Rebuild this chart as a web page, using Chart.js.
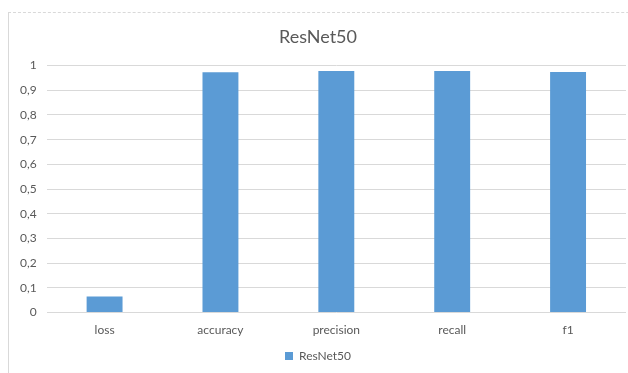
<!DOCTYPE html>
<html lang="en">
<head>
    <meta charset="UTF-8">
    <title>ResNet50</title>
    <script src="https://cdn.jsdelivr.net/npm/chart.js"></script>
    <style>
        html, body { margin: 0; padding: 0; background: #fff; }
        #wrap { position: relative; width: 628px; height: 373px; overflow: hidden; }
        #frame {
            position: absolute; left: 8px; top: 12px; width: 700px; height: 400px;
            border-left: 1px solid #d9d9d9; border-top: 1px dashed #d9d9d9;
        }
        #resnetChart { position: absolute; left: 0; top: 0; }
    </style>
</head>
<body>
    <div id="wrap">
        <div id="frame"></div>
        <canvas id="resnetChart" width="628" height="373"></canvas>
    </div>

    <script>
        // Metrics
        const categories = ['loss', 'accuracy', 'precision', 'recall', 'f1'];
        const resnetValues = [0.065, 0.973, 0.978, 0.978, 0.974];
        const yTickLabels = ['0', '0,1', '0,2', '0,3', '0,4', '0,5', '0,6', '0,7', '0,8', '0,9', '1'];

        const textColor = '#595959';
        const fontFamily = 'Lato, "Open Sans", sans-serif';

        new Chart(document.getElementById('resnetChart'), {
            type: 'bar',
            data: {
                labels: categories,
                datasets: [{
                    label: 'ResNet50',
                    data: resnetValues,
                    backgroundColor: '#5b9bd5',
                    borderWidth: 0,
                    categoryPercentage: 1,
                    barPercentage: 0.31
                }]
            },
            options: {
                responsive: false,
                animation: false,
                layout: { padding: { top: 18, right: 2, bottom: 1, left: 10 } },
                plugins: {
                    title: {
                        display: true,
                        text: 'ResNet50',
                        color: textColor,
                        font: { family: fontFamily, size: 18, weight: 'normal' },
                        padding: { top: 8, bottom: 18 }
                    },
                    legend: {
                        position: 'bottom',
                        labels: {
                            color: textColor,
                            font: { family: fontFamily, size: 12 },
                            boxWidth: 8,
                            boxHeight: 8,
                            padding: 3
                        }
                    },
                    tooltip: { enabled: false }
                },
                scales: {
                    x: {
                        grid: { display: false, drawTicks: false },
                        border: { display: false },
                        ticks: {
                            color: textColor,
                            font: { family: fontFamily, size: 12 },
                            padding: 10
                        }
                    },
                    y: {
                        min: 0,
                        max: 1,
                        grid: { color: '#d9d9d9', drawTicks: false },
                        border: { display: false },
                        ticks: {
                            stepSize: 0.1,
                            color: textColor,
                            font: { family: fontFamily, size: 12 },
                            padding: 10,
                            callback: (v, i) => yTickLabels[i]
                        }
                    }
                }
            }
        });
    </script>
</body>
</html>
